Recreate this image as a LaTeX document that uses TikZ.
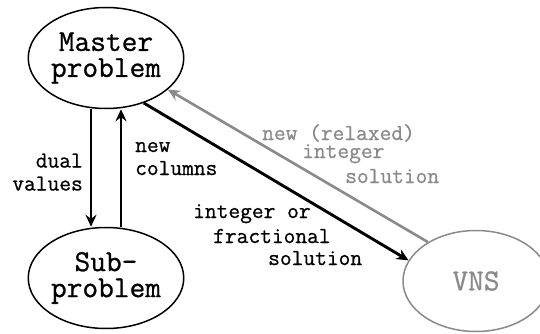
\documentclass[tikz,border=0pt]{standalone}
\usepackage{fontspec}
\newfontfamily\heavytt{Latin Modern Mono}[FakeBold=0.8]
\usetikzlibrary{shapes.geometric,arrows.meta}
\definecolor{lgray}{HTML}{8A8A8A}
\begin{document}
\begin{tikzpicture}[x=1pt,y=-1pt,
  bignode/.style={ellipse,draw,line width=1.5pt,minimum width=146pt,minimum height=101pt,inner sep=0pt,align=center,font=\heavytt\fontsize{30.5}{26}\selectfont},
  lab/.style={inner sep=0pt,font=\heavytt\fontsize{22.8}{24}\selectfont},
  arr/.style={line width=2.9pt,-{Stealth[length=12pt,width=11pt,inset=4pt]}},
]
\useasboundingbox (0,0) rectangle (540,334);
\node[bignode] (master) at (106,58) {Master\\problem};
\node[bignode] (sub) at (106,278) {Sub-\\problem};
\node[bignode,draw=lgray,text=lgray] (vns) at (476,281) {VNS};

\draw[arr] ([xshift=-15pt]master.south) -- ([xshift=-15pt]sub.north);
\draw[arr] ([xshift=15pt]sub.north) -- ([xshift=15pt]master.south);
\draw[arr] (master.-50) -- (vns.163);
\draw[arr,draw=lgray,line width=2.6pt] (vns.141) -- (master.-27);

\node[lab,align=right,anchor=base east] (lduals) at (83,190.5) {dual\\[-1pt]values};
\node[lab,align=left,anchor=base west] (lcols) at (135,175) {new\\[-1pt]columns};
\node[lab,align=left,anchor=base west] (lint) at (193,265) {integer or\\[1pt]\hspace*{20pt}fractional\\[-2pt]\hspace*{75pt}solution};
\node[lab,align=left,anchor=base west,text=lgray] (lrel) at (262,183) {new (relaxed)\\[-6pt]\hspace*{40pt}integer\\[1pt]\hspace*{83pt}solution};
\end{tikzpicture}
\end{document}
